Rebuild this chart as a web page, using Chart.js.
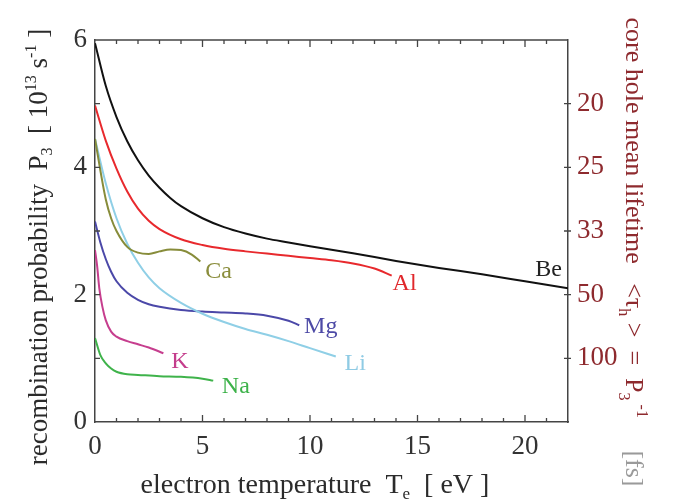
<!DOCTYPE html>
<html lang="en">
<head>
<meta charset="UTF-8" />
<title>recombination probability</title>
<script src="https://cdn.jsdelivr.net/npm/chart.js"></script>
<style>
  html, body { margin: 0; padding: 0; background: #fff; }
  #wrap { width: 677px; height: 500px; }
</style>
</head>
<body>
<div id="wrap"><canvas id="chart" width="677" height="500"></canvas></div>
<script>
  // values (T_e in eV, P_3 in 10^13 s^-1)
  const beX = [0, 0.5, 1, 1.5, 2, 2.5, 3, 3.5, 4, 5, 6, 7, 8, 9, 10, 12, 14, 16, 18, 20, 22];
  const beY = [5.95, 5.28, 4.79, 4.41, 4.11, 3.87, 3.68, 3.52, 3.39, 3.2, 3.06, 2.96, 2.88, 2.82, 2.76, 2.65, 2.53, 2.42, 2.32, 2.21, 2.1];

  const alX = [0, 0.5, 1, 1.5, 2, 2.5, 3, 4, 5, 6, 7, 8, 9, 10, 11, 12, 13, 13.8];
  const alY = [4.97, 4.42, 3.98, 3.62, 3.35, 3.16, 3.03, 2.87, 2.78, 2.72, 2.68, 2.645, 2.61, 2.575, 2.54, 2.49, 2.41, 2.3];

  const caX = [0, 0.25, 0.5, 0.75, 1, 1.5, 2, 2.5, 3, 3.5, 4, 4.5, 4.9];
  const caY = [4.45, 3.95, 3.5, 3.2, 3.0, 2.75, 2.66, 2.64, 2.68, 2.71, 2.7, 2.63, 2.52];

  const liX = [0, 0.5, 1, 1.5, 2, 2.5, 3, 4, 5, 6, 7, 8, 9, 10, 11.2];
  const liY = [4.45, 3.75, 3.2, 2.8, 2.5, 2.27, 2.1, 1.87, 1.7, 1.57, 1.46, 1.37, 1.27, 1.16, 1.03];

  const mgX = [0, 0.25, 0.5, 0.75, 1, 1.5, 2, 2.5, 3, 4, 5, 6, 7, 8, 9, 9.5];
  const mgY = [3.15, 2.82, 2.56, 2.36, 2.21, 2.03, 1.92, 1.85, 1.81, 1.76, 1.735, 1.72, 1.705, 1.67, 1.59, 1.52];

  const kX = [0, 0.1, 0.2, 0.35, 0.5, 0.75, 1, 1.5, 2, 2.5, 3.18];
  const kY = [2.7, 2.45, 2.1, 1.8, 1.6, 1.42, 1.34, 1.27, 1.22, 1.17, 1.08];

  const naX = [0, 0.25, 0.5, 0.75, 1, 1.5, 2, 3, 4, 5, 5.5];
  const naY = [1.32, 1.05, 0.92, 0.84, 0.79, 0.75, 0.74, 0.72, 0.71, 0.68, 0.65];

  const xTickLabels = [0, 5, 10, 15, 20];
  const leftTickLabels = [0, 2, 4, 6];
  const rightTickValues = [5, 4, 3, 2, 1];
  const rightTickLabels = ['20', '25', '33', '50', '100'];

  const serif = 'Liberation Serif';
  const darkRed = '#8e2a2e';

  const pts = (xs, ys) => xs.map((x, i) => ({ x: x, y: ys[i] }));
  const series = (label, xs, ys, color) => ({
    label: label, data: pts(xs, ys), borderColor: color, borderWidth: 2,
    pointRadius: 0, fill: false, cubicInterpolationMode: 'monotone'
  });

  // where each element name is written, in data units
  const nameTags = [
    { text: 'Be', x: 21.1, y: 2.39, color: '#222' },
    { text: 'Al', x: 14.4, y: 2.17, color: '#e0282c' },
    { text: 'Ca', x: 5.75, y: 2.36, color: '#8a8d3c' },
    { text: 'Mg', x: 10.5, y: 1.5, color: '#4d4aa6' },
    { text: 'Li', x: 12.1, y: 0.92, color: '#8fcbe4' },
    { text: 'K', x: 3.95, y: 0.95, color: '#c43d8c' },
    { text: 'Na', x: 6.55, y: 0.55, color: '#3db24a' }
  ];

  // draw a run of text pieces with sub/superscripts
  function richWidth(ctx, parts) {
    let w = 0;
    parts.forEach(p => { ctx.font = p.size + 'px "' + serif + '"'; w += ctx.measureText(p.t).width; });
    return w;
  }
  function drawRich(ctx, parts, x, y) {
    let cx = x;
    parts.forEach(p => {
      ctx.font = p.size + 'px "' + serif + '"';
      ctx.fillStyle = p.color;
      ctx.fillText(p.t, cx, y + (p.dy || 0));
      cx += ctx.measureText(p.t).width;
    });
  }

  const decorations = {
    id: 'decorations',
    afterDraw(chart) {
      const ctx = chart.ctx;
      const a = chart.chartArea;
      const xs = chart.scales.x, ys = chart.scales.y;
      ctx.save();
      ctx.strokeStyle = '#444';
      ctx.lineWidth = 1.3;
      // top frame line
      ctx.beginPath(); ctx.moveTo(a.left, a.top); ctx.lineTo(a.right, a.top); ctx.stroke();
      // inward ticks
      ctx.beginPath();
      for (let v = 1; v < 22; v++) {
        const px = xs.getPixelForValue(v);
        const len = v % 5 === 0 ? 7 : 4;
        ctx.moveTo(px, a.bottom); ctx.lineTo(px, a.bottom - len);
        ctx.moveTo(px, a.top); ctx.lineTo(px, a.top + len);
      }
      for (let v = 1; v < 6; v++) {
        const py = ys.getPixelForValue(v);
        ctx.moveTo(a.left, py); ctx.lineTo(a.left + 5, py);
      }
      rightTickValues.forEach(v => {
        const py = chart.scales.y1.getPixelForValue(v);
        ctx.moveTo(a.right - 4, py); ctx.lineTo(a.right + 3, py);
      });
      ctx.stroke();

      // element names
      ctx.textAlign = 'center';
      ctx.textBaseline = 'middle';
      ctx.font = '24px "' + serif + '"';
      nameTags.forEach(t => {
        ctx.fillStyle = t.color;
        ctx.fillText(t.text, xs.getPixelForValue(t.x), ys.getPixelForValue(t.y));
      });

      ctx.textAlign = 'left';
      ctx.textBaseline = 'alphabetic';
      const ink = '#2b2b2b';

      // left title
      const leftParts = [
        { t: 'recombination probability  P', size: 27, color: ink },
        { t: '3', size: 16, dy: 5, color: ink },
        { t: '  [ 10', size: 27, color: ink },
        { t: '13', size: 16, dy: -11, color: ink },
        { t: ' s', size: 27, color: ink },
        { t: '-1', size: 16, dy: -11, color: ink },
        { t: ' ]', size: 27, color: ink }
      ];
      ctx.save();
      ctx.translate(47, 247);
      ctx.rotate(-Math.PI / 2);
      drawRich(ctx, leftParts, -richWidth(ctx, leftParts) / 2, 0);
      ctx.restore();

      // bottom title
      const bottomParts = [
        { t: 'electron temperature  T', size: 28, color: ink },
        { t: 'e', size: 17, dy: 6, color: ink },
        { t: '  [ eV ]', size: 28, color: ink }
      ];
      drawRich(ctx, bottomParts, 315 - richWidth(ctx, bottomParts) / 2, 493);

      // right title
      const rightParts = [
        { t: 'core hole mean lifetime   <\u03c4', size: 26, color: darkRed },
        { t: 'h', size: 16, dy: 7, color: darkRed },
        { t: ' >  =  P', size: 26, color: darkRed },
        { t: '3', size: 16, dy: 7, color: darkRed },
        { t: ' -1', size: 16, dy: -11, color: darkRed },
        { t: '     [fs]', size: 26, color: '#9a9a9a' }
      ];
      ctx.save();
      ctx.translate(626, 252);
      ctx.rotate(Math.PI / 2);
      drawRich(ctx, rightParts, -richWidth(ctx, rightParts) / 2, 0);
      ctx.restore();

      ctx.restore();
    }
  };

  const tickFont = { family: serif, size: 27 };

  new Chart(document.getElementById('chart').getContext('2d'), {
    type: 'line',
    data: {
      datasets: [
        series('Be', beX, beY, '#111111'),
        series('Al', alX, alY, '#e8292d'),
        series('Ca', caX, caY, '#878c3a'),
        series('Li', liX, liY, '#8fcfe6'),
        series('Mg', mgX, mgY, '#4b48a8'),
        series('K', kX, kY, '#c63e8e'),
        series('Na', naX, naY, '#3fb34b')
      ]
    },
    options: {
      responsive: false,
      animation: false,
      layout: { padding: { top: 40, left: 0, right: 0, bottom: 0 } },
      plugins: { legend: { display: false }, tooltip: { enabled: false } },
      scales: {
        x: {
          type: 'linear', position: 'bottom', min: 0, max: 22,
          grid: { display: false, drawTicks: false },
          border: { display: true, color: '#444', width: 1.5 },
          ticks: {
            stepSize: 5, includeBounds: false, padding: 9, color: '#333',
            font: tickFont,
            callback: v => xTickLabels.includes(v) ? String(v) : ''
          },
          afterFit: s => { s.height = 78; }
        },
        y: {
          position: 'left', min: 0, max: 6,
          grid: { display: false, drawTicks: false },
          border: { display: true, color: '#444', width: 1.5 },
          ticks: {
            stepSize: 2, padding: 8, color: '#333',
            font: tickFont,
            callback: v => leftTickLabels.includes(v) ? String(v) : ''
          },
          afterFit: s => { s.width = 95; }
        },
        y1: {
          position: 'right', min: 0, max: 6,
          grid: { display: false, drawTicks: false },
          border: { display: true, color: '#444', width: 1.5 },
          ticks: {
            stepSize: 1, padding: 9, color: darkRed,
            font: tickFont,
            callback: v => {
              const i = rightTickValues.indexOf(v);
              return i >= 0 ? rightTickLabels[i] : '';
            }
          },
          afterFit: s => { s.width = 109; }
        }
      }
    },
    plugins: [decorations]
  });
</script>
</body>
</html>
